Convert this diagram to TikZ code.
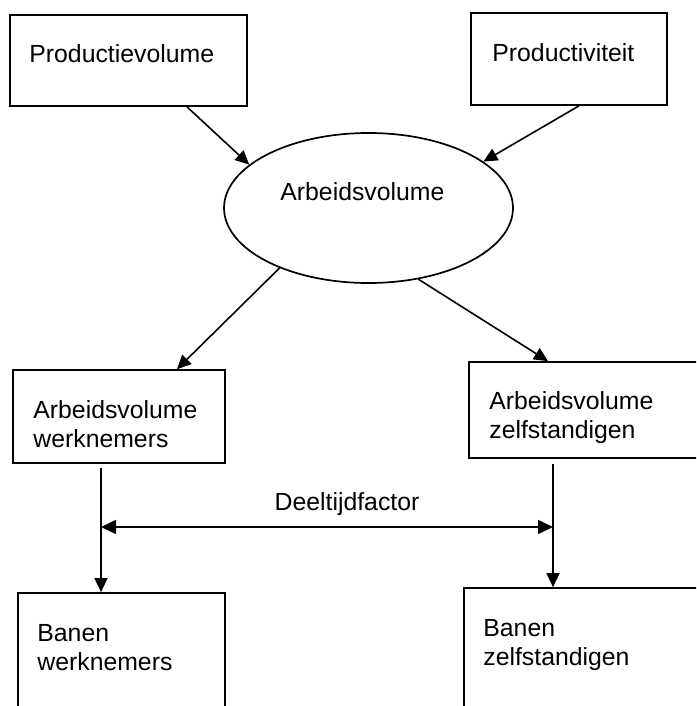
\documentclass[tikz,border=0pt]{standalone}
\usepackage{fontspec}
\setmainfont{Liberation Sans}
\usetikzlibrary{calc, arrows.meta, shapes.geometric}

\begin{document}
\begin{tikzpicture}[x=0.5pt, y=-0.5pt,
  blok/.style={draw, line width=0.85pt, inner sep=0pt},
  ovaal/.style={draw, ellipse, line width=0.85pt, inner sep=0pt, minimum width=144.5pt, minimum height=75pt},
  tekst/.style={anchor=base west, inner sep=0pt, align=left, font=\fontsize{12.4pt}{14.3pt}\selectfont},
  pijl/.style={-{Triangle[length=7pt, width=6.5pt]}, line width=0.8pt},
  dubbel/.style={{Triangle[length=7.5pt, width=7pt]}-{Triangle[length=7.5pt, width=7pt]}, line width=0.8pt}]
  \useasboundingbox (0,0) rectangle (696,706);
  \clip (0,0) rectangle (696,706);

  \node[blok, minimum width=118.5pt, minimum height=45.5pt] (pv) at (128.5,60.5) {};
  \node[blok, minimum width=98pt, minimum height=46pt] (pt) at (569,59) {};
  \node[ovaal] (av) at (368.5,208) {};
  \node[blok, minimum width=106pt, minimum height=46.5pt] (awn) at (119,416.5) {};
  \node[blok, minimum width=125.5pt, minimum height=48pt] (azs) at (594.5,410) {};
  \node[blok, minimum width=103.5pt, minimum height=68.5pt] (bwn) at (121.5,661.5) {};
  \node[blok, minimum width=128pt, minimum height=71pt] (bzs) at (592,659) {};

  \node[tekst] (pvt) at (29,63) {Productievolume};
  \node[tekst] (ptt) at (492,62) {Productiviteit};
  \node[tekst] (avt) at (280,200) {Arbeidsvolume};
  \node[tekst] (awnt) at (33,447) {Arbeidsvolume\\werknemers};
  \node[tekst] (azst) at (489,438) {Arbeidsvolume\\zelfstandigen};
  \node[tekst] (bwnt) at (37,670) {Banen\\werknemers};
  \node[tekst] (bzst) at (483,665) {Banen\\zelfstandigen};

  \coordinate (dl) at (101,527);
  \coordinate (dr) at (553,527);
  \node[tekst, anchor=base] (dtf) at (347,510) {Deeltijdfactor};

  \draw[pijl] ($(pv.south)+(58.5,0)$) -- (av.160);
  \draw[pijl] ($(pt.south)+(10,0)$) -- (av.22);
  \draw[pijl] (av.214) -- ($(awn.north)+(58,0)$);
  \draw[pijl] (av.305) -- ($(azs.north)+(-46.5,0)$);
  \draw[pijl, shorten <=2pt] ($(awn.south)+(-18,0)$) -- ($(bwn.north)+(-20.5,0)$);
  \draw[pijl, shorten <=2.5pt] ($(azs.south)+(-41.5,0)$) -- ($(bzs.north)+(-39,0)$);
  \draw[dubbel] (dl) -- (dr);
\end{tikzpicture}
\end{document}
